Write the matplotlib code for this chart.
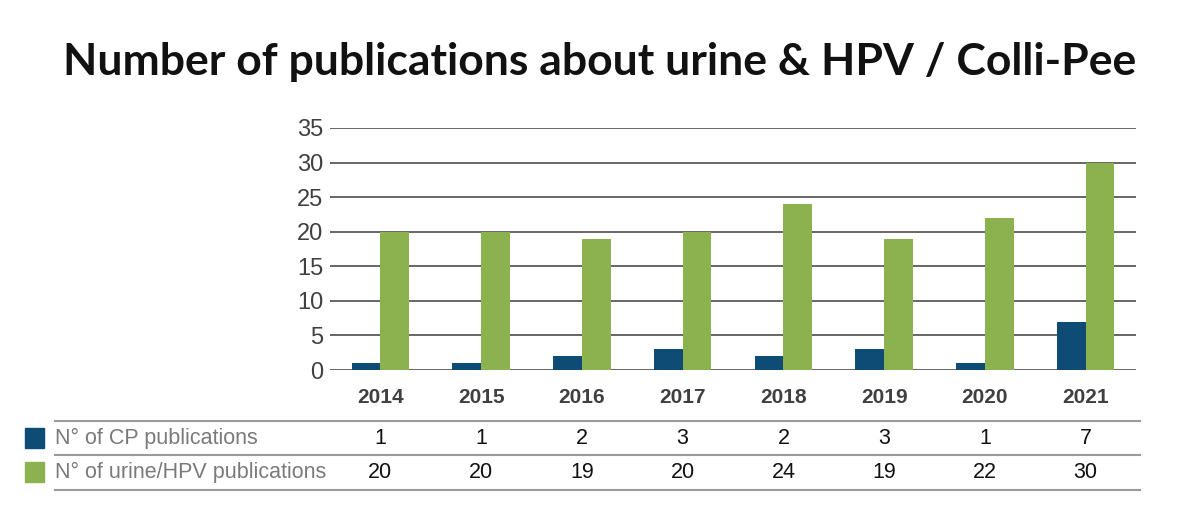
import matplotlib.pyplot as plt
import matplotlib.transforms as mtransforms
from matplotlib.patches import Rectangle
from matplotlib.lines import Line2D
import numpy as np

years = ["2014", "2015", "2016", "2017", "2018", "2019", "2020", "2021"]
cp_pubs = [1, 1, 2, 3, 2, 3, 1, 7]
urine_pubs = [20, 20, 19, 20, 24, 19, 22, 30]
series_names = ["N° of CP publications", "N° of urine/HPV publications"]

blue = "#0f4c75"
green = "#8bb24f"

plt.rcParams['font.family'] = ['Liberation Sans', 'DejaVu Sans']

fig = plt.figure(figsize=(12, 5.31), dpi=100)
ax = fig.add_axes([0.275, 0.3032, 0.6717, 0.4558])

x = np.arange(len(years))
w = 0.285
ax.bar(x - w / 2, cp_pubs, width=w, color=blue, zorder=3)
ax.bar(x + w / 2, urine_pubs, width=w, color=green, zorder=3)

ax.set_xlim(-0.5, len(years) - 0.5)
ax.set_ylim(0, 35)
ax.set_yticks(range(0, 36, 5))
ax.yaxis.grid(True, color="#5a5a5a", linewidth=1.3, zorder=0)
ax.set_axisbelow(True)
for s in ax.spines.values():
    s.set_visible(False)
ax.tick_params(axis="both", length=0)
ax.tick_params(axis="y", labelsize=17, labelcolor="#404040", pad=5)
ax.set_xticks(x)
ax.set_xticklabels(years, fontsize=15, fontweight="bold", color="#404040")
ax.tick_params(axis="x", pad=13)

fig.text(0.5, 0.883, "Number of publications about urine & HPV / Colli-Pee",
         ha="center", va="center", fontsize=32, fontweight="bold",
         family=["Lato", "DejaVu Sans"], color="#111111")

# data table below the chart
trans = mtransforms.blended_transform_factory(ax.transData, fig.transFigure)
for yl in [0.2072, 0.1431, 0.0772]:
    fig.add_artist(Line2D([0.0458, 0.95], [yl, yl], color="#9a9a9a",
                          linewidth=1.5, transform=fig.transFigure))

row_y = [0.1751, 0.1111]
rows = [cp_pubs, urine_pubs]
colors = [blue, green]
for name, vals, col, ry in zip(series_names, rows, colors, row_y):
    fig.add_artist(Rectangle((0.0208, ry - 0.018), 0.0155, 0.036,
                             color=col, transform=fig.transFigure))
    fig.text(0.0462, ry, name, ha="left", va="center", fontsize=15.5,
             color="#7a7a7a")
    for xi, v in zip(x, vals):
        ax.text(xi, ry, str(v), ha="center", va="center", fontsize=15.5,
                color="#111111", transform=trans)

fig.savefig("out.png", dpi=100)
